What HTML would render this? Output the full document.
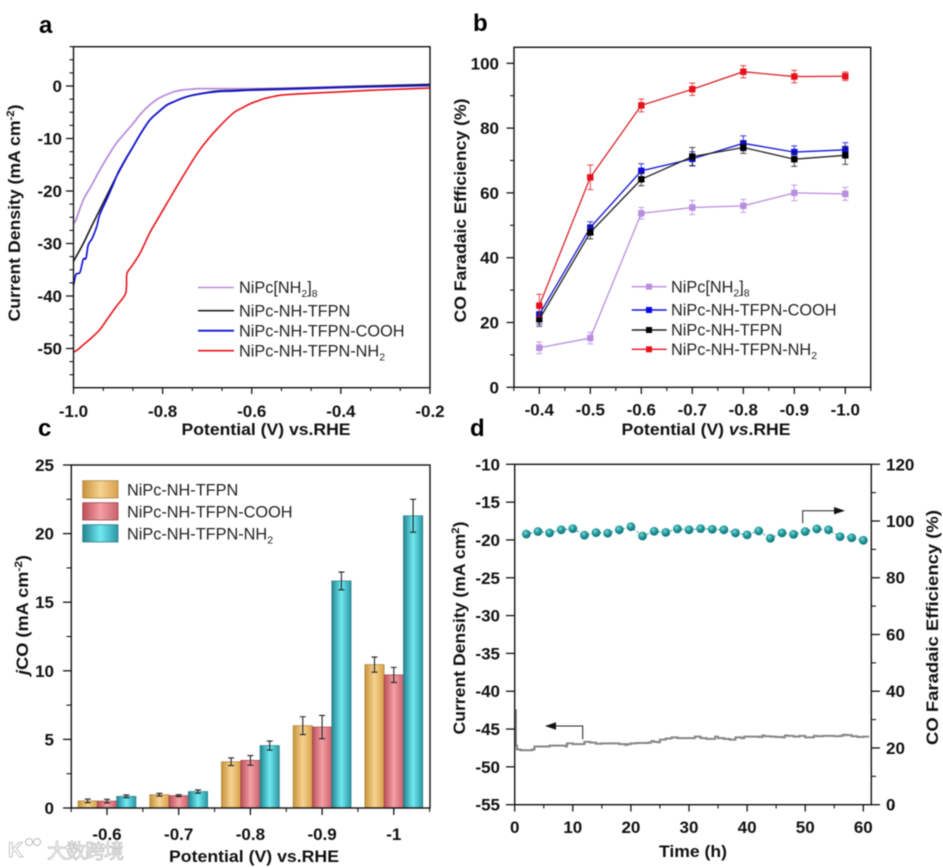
<!DOCTYPE html>
<html lang="en">
<head>
<meta charset="utf-8">
<title>NiPc catalyst performance figure</title>
<style>
html,body{margin:0;padding:0;background:#fff;}
body{width:943px;height:867px;overflow:hidden;}
svg{display:block;filter:blur(0.4px);}
text{font-family:"Liberation Sans","Noto Sans CJK SC",sans-serif;fill:#111;}
.tick{font-weight:bold;font-size:17px;}
.title{font-weight:bold;font-size:17px;}
.leg{font-size:16.3px;fill:#222;}
.panel{font-weight:bold;font-size:24px;fill:#000;}
</style>
</head>
<body>
<svg id="fig" width="943" height="867" viewBox="0 0 943 867" xmlns="http://www.w3.org/2000/svg">
<defs>
<linearGradient id="gOrange" x1="0" x2="1" y1="0" y2="0"><stop offset="0" stop-color="#c8923a"/><stop offset="0.5" stop-color="#f6d391"/><stop offset="1" stop-color="#d9a04a"/></linearGradient>
<linearGradient id="gRed" x1="0" x2="1" y1="0" y2="0"><stop offset="0" stop-color="#bb4f58"/><stop offset="0.5" stop-color="#f4a0a4"/><stop offset="1" stop-color="#c9606a"/></linearGradient>
<linearGradient id="gTeal" x1="0" x2="1" y1="0" y2="0"><stop offset="0" stop-color="#23838f"/><stop offset="0.5" stop-color="#70eaf2"/><stop offset="1" stop-color="#2a95a3"/></linearGradient>
<radialGradient id="gBall" cx="0.4" cy="0.35" r="0.7"><stop offset="0" stop-color="#8fd5d5"/><stop offset="0.45" stop-color="#1f9c9f"/><stop offset="1" stop-color="#0c6c72"/></radialGradient>
</defs>

<!-- Panel letters -->
<text class="panel" x="39" y="33">a</text>
<text class="panel" x="473" y="31">b</text>
<text class="panel" x="38" y="436">c</text>
<text class="panel" x="470" y="436">d</text>

<!-- Mark layers, drawn by script -->
<g id="layerA"></g>
<g id="layerB"></g>
<g id="layerC"></g>
<g id="layerD"></g>
<g id="axes"></g>

<!-- Plot frames -->
<rect x="73.5" y="46.7" width="356.5" height="341" fill="none" stroke="#111" stroke-width="1.4"/>
<rect x="514" y="47.3" width="356.7" height="340" fill="none" stroke="#111" stroke-width="1.4"/>
<rect x="71.3" y="465" width="358.7" height="343" fill="none" stroke="#111" stroke-width="1.4"/>
<rect x="514.7" y="464.3" width="356.6" height="340.4" fill="none" stroke="#111" stroke-width="1.4"/>

<!-- Axis titles -->
<text class="title" transform="translate(20,213) rotate(-90)" text-anchor="middle" textLength="217" lengthAdjust="spacingAndGlyphs">Current Density (mA cm<tspan font-size="11" dy="-6">-2</tspan><tspan dy="6">)</tspan></text>
<text class="title" x="266" y="435" text-anchor="middle" textLength="169" lengthAdjust="spacingAndGlyphs">Potential (V) vs.RHE</text>
<text class="title" transform="translate(466,210.5) rotate(-90)" text-anchor="middle" textLength="224" lengthAdjust="spacingAndGlyphs">CO Faradaic Efficiency (%)</text>
<text class="title" x="706" y="435" text-anchor="middle" textLength="169" lengthAdjust="spacingAndGlyphs">Potential (V) <tspan font-style="italic">vs</tspan>.RHE</text>
<text class="title" transform="translate(28,615) rotate(-90)" text-anchor="middle" textLength="120" lengthAdjust="spacingAndGlyphs"><tspan font-style="italic">j</tspan>CO (mA cm<tspan font-size="11" dy="-6">-2</tspan><tspan dy="6">)</tspan></text>
<text class="title" x="254" y="862" text-anchor="middle" textLength="170" lengthAdjust="spacingAndGlyphs">Potential (V) vs.RHE</text>
<text class="title" transform="translate(465,628) rotate(-90)" text-anchor="middle" textLength="213" lengthAdjust="spacingAndGlyphs">Current Density (mA cm<tspan font-size="11" dy="-6">2</tspan><tspan dy="6">)</tspan></text>
<text class="title" transform="translate(938,627.5) rotate(-90)" text-anchor="middle" textLength="235" lengthAdjust="spacingAndGlyphs">CO Faradaic Efficiency (%)</text>
<text class="title" x="693" y="857" text-anchor="middle" textLength="68" lengthAdjust="spacingAndGlyphs">Time (h)</text>

<!-- Legend a -->
<g>
<line x1="198" x2="234" y1="287.5" y2="287.5" stroke="#b98de0" stroke-width="1.6"/>
<text class="leg" x="239" y="293">NiPc[NH<tspan font-size="10.5" dy="4">2</tspan><tspan dy="-4">]</tspan><tspan font-size="10.5" dy="4">8</tspan></text>
<line x1="198" x2="234" y1="310.7" y2="310.7" stroke="#222" stroke-width="1.6"/>
<text class="leg" x="239" y="316.5">NiPc-NH-TFPN</text>
<line x1="198" x2="234" y1="330.7" y2="330.7" stroke="#1414d8" stroke-width="1.8"/>
<text class="leg" x="239" y="336.5">NiPc-NH-TFPN-COOH</text>
<line x1="198" x2="234" y1="350.7" y2="350.7" stroke="#e8141c" stroke-width="1.6"/>
<text class="leg" x="239" y="356.5">NiPc-NH-TFPN-NH<tspan font-size="10.5" dy="4">2</tspan></text>
</g>

<!-- Legend b -->
<g>
<line x1="631.7" x2="666.7" y1="286.7" y2="286.7" stroke="#b98de0" stroke-width="1.4"/>
<rect x="646" y="283.7" width="6" height="6" fill="#b98de0"/>
<text class="leg" x="671" y="292.5">NiPc[NH<tspan font-size="10.5" dy="4">2</tspan><tspan dy="-4">]</tspan><tspan font-size="10.5" dy="4">8</tspan></text>
<line x1="631.7" x2="666.7" y1="310" y2="310" stroke="#1414d8" stroke-width="1.4"/>
<rect x="646" y="307" width="6" height="6" fill="#0808e8"/>
<text class="leg" x="671" y="315.5">NiPc-NH-TFPN-COOH</text>
<line x1="631.7" x2="666.7" y1="330" y2="330" stroke="#222" stroke-width="1.4"/>
<rect x="646" y="327" width="6" height="6" fill="#000"/>
<text class="leg" x="671" y="335.5">NiPc-NH-TFPN</text>
<line x1="631.7" x2="666.7" y1="349.3" y2="349.3" stroke="#e8141c" stroke-width="1.4"/>
<rect x="646" y="346.3" width="6" height="6" fill="#e8101a"/>
<text class="leg" x="671" y="355">NiPc-NH-TFPN-NH<tspan font-size="10.5" dy="4">2</tspan></text>
</g>

<!-- Legend c -->
<g>
<rect x="82.7" y="480.7" width="35.3" height="17.3" fill="url(#gOrange)" stroke="#a9853f" stroke-width="0.8"/>
<text class="leg" x="127" y="495.5">NiPc-NH-TFPN</text>
<rect x="82.7" y="502.7" width="35.3" height="17.3" fill="url(#gRed)" stroke="#99444c" stroke-width="0.8"/>
<text class="leg" x="127" y="517.5">NiPc-NH-TFPN-COOH</text>
<rect x="82.7" y="524.7" width="35.3" height="17.3" fill="url(#gTeal)" stroke="#2d7f88" stroke-width="0.8"/>
<text class="leg" x="127" y="539.5">NiPc-NH-TFPN-NH<tspan font-size="10.5" dy="4">2</tspan></text>
</g>

<!-- Panel d direction arrows -->
<g>
<path d="M802.7 523.3V510.7H836" fill="none" stroke="#222" stroke-width="1"/>
<path d="M845 510.7L834 507V514.4Z" fill="#111"/>
</g>
<g>
<path d="M582.7 739.3V726H554" fill="none" stroke="#222" stroke-width="1"/>
<path d="M545 726L556 722.3V729.7Z" fill="#111"/>
</g>

<!-- Watermark -->
<g opacity="0.85">
<text x="8" y="857" font-size="21" font-weight="bold" style="fill:#fff;stroke:#bdbdbd;stroke-width:1">K</text>
<circle cx="29" cy="842" r="3.5" fill="#fff" stroke="#bdbdbd" stroke-width="1.2"/>
<circle cx="37" cy="842" r="3.5" fill="#fff" stroke="#bdbdbd" stroke-width="1.2"/>
<text x="47" y="858" font-size="20" textLength="77" style="fill:#fff;stroke:#b5b5b5;stroke-width:0.8">大数跨境</text>
</g>
</svg>

<script>
// ---- Panel a: linear sweep curves (potential V, current density mA cm-2)
const aPurpleV = [-1,-0.995,-0.978,-0.96,-0.941,-0.92,-0.904,-0.885,-0.866,-0.848,-0.829,-0.81,-0.79,-0.775,-0.755,-0.735,-0.717,-0.68,-0.6,-0.5,-0.4,-0.3,-0.2];
const aPurpleJ = [-26,-25.6,-21.7,-19,-16,-13,-10.9,-9,-7.1,-5.2,-3.6,-2.4,-1.6,-1.1,-0.76,-0.6,-0.5,-0.5,-0.5,-0.35,-0.1,0.1,0.3];
const aBlackV = [-1,-0.978,-0.96,-0.941,-0.92,-0.904,-0.885,-0.866,-0.848,-0.829,-0.81,-0.79,-0.772,-0.755,-0.735,-0.717,-0.68,-0.64,-0.6,-0.5,-0.4,-0.3,-0.2];
const aBlackJ = [-33.4,-30,-26.8,-23.6,-20,-17.3,-14.3,-11.5,-8.9,-6.5,-5,-3.6,-2.9,-2.3,-1.8,-1.5,-1,-0.85,-0.7,-0.45,-0.2,0.05,0.3];
const aBlueV = [-1,-0.995,-0.99,-0.985,-0.978,-0.972,-0.967,-0.958,-0.948,-0.941,-0.925,-0.911,-0.9,-0.885,-0.866,-0.848,-0.829,-0.81,-0.79,-0.772,-0.755,-0.735,-0.717,-0.68,-0.64,-0.6,-0.5,-0.4,-0.3,-0.2];
const aBlueJ = [-38,-36,-35.7,-35.4,-33,-32.8,-30.3,-29,-26.8,-24.5,-21.5,-18.8,-16.5,-14.2,-11.5,-8.9,-6.5,-5,-3.6,-2.9,-2.3,-1.8,-1.5,-1.1,-0.95,-0.8,-0.55,-0.3,-0.1,0.1];
const aRedV = [-1,-0.99,-0.978,-0.96,-0.941,-0.925,-0.904,-0.89,-0.883,-0.881,-0.88,-0.87,-0.851,-0.829,-0.81,-0.79,-0.755,-0.717,-0.68,-0.642,-0.622,-0.604,-0.585,-0.567,-0.53,-0.47,-0.4,-0.3,-0.2];
const aRedJ = [-50.7,-50.2,-49.3,-48,-46.4,-44.5,-42,-40.5,-39.5,-38,-35.7,-34.4,-31.9,-28,-25.2,-22.3,-17.3,-12.2,-8.4,-5.2,-4.2,-3.4,-2.8,-2.3,-1.7,-1.4,-1.1,-0.7,-0.4];
const aXTicks = [-1.0,-0.8,-0.6,-0.4,-0.2];
const aXTickLabels = ['-1.0','-0.8','-0.6','-0.4','-0.2'];
const aYTicks = [0,-10,-20,-30,-40,-50];

// ---- Panel b: CO Faradaic efficiency vs potential
const bCategories = ['-0.4','-0.5','-0.6','-0.7','-0.8','-0.9','-1.0'];
const bPurple = [12.2,15.2,53.7,55.5,56,60,59.7];
const bPurpleErr = [1.8,1.8,1.8,2.2,2,2.4,2];
const bBlue = [22.5,49.3,66.8,70.5,75.3,72.6,73.3];
const bBlueErr = [3,1.8,2.2,2.2,2.3,1.9,2.2];
const bBlack = [21,47.8,64.2,71.2,74,70.4,71.6];
const bBlackErr = [2.2,2,2,2.8,1.8,2.2,2.8];
const bRed = [25.2,64.8,87,92,97.4,95.9,96];
const bRedErr = [3.5,3.8,2,1.9,1.9,1.9,1.3];
const bYTicks = [0,20,40,60,80,100];

// ---- Panel c: partial current density bars
const cCategories = ['-0.6','-0.7','-0.8','-0.9','-1'];
const cTfpn = [0.52,0.97,3.37,6.0,10.45];
const cTfpnErr = [0.13,0.1,0.28,0.65,0.55];
const cCooh = [0.5,0.9,3.47,5.9,9.7];
const cCoohErr = [0.13,0.07,0.35,0.85,0.55];
const cNh2 = [0.85,1.2,4.55,16.55,21.3];
const cNh2Err = [0.1,0.12,0.33,0.65,1.2];
const cYTicks = [0,5,10,15,20,25];

// ---- Panel d: stability run
const dTime = [0,0.2,0.4,1,2,3,3.4,5,6,7,8,8.8,9,10,11,11.7,12,13,14,15,16,17,18,19,19.4,20,21,22,23,23.5,24,24.6,25,26,27,28,29,30,31,32,33,34,34.5,35,36,37,38,39,39.5,40,41,42,42.6,43,44,45,46,46.5,47,48,49,50,51,51.5,52,53,54,55,56,56.5,57,58,59,60,61];
const dCurrent = [-42.5,-47.2,-47.7,-47.8,-47.8,-47.7,-47.3,-47.3,-47.2,-47.2,-47.2,-47.3,-46.9,-47,-47,-47,-46.7,-46.8,-46.95,-46.9,-46.9,-46.9,-47,-47.1,-47,-46.9,-46.85,-46.85,-46.8,-46.6,-46.7,-46.75,-46.4,-46.25,-46.1,-46.2,-46.2,-46.2,-46,-46.2,-46.3,-46.3,-46,-46.2,-46.3,-46.4,-46.1,-46.2,-46,-46,-46,-46.05,-45.85,-45.95,-46,-46.05,-46.1,-45.85,-45.9,-46,-45.9,-46.1,-46.1,-45.9,-45.95,-45.9,-45.9,-45.95,-45.9,-45.75,-45.8,-45.95,-46.05,-46,-46];
const dEfTime = [2,4,6,8,10,12,14,16,18,20,22,24,26,28,30,32,34,36,38,40,42,44,46,48,50,52,54,56,58,60];
const dEf = [95.4,96.3,95.8,96.9,97.3,95,95.9,95.7,96.9,98,94.7,96.4,96,97.2,96.9,97.3,97.1,96.9,95.8,95.1,96.5,93.9,95.8,95.3,96.3,97.2,96.9,94.5,94.1,93.2];
const dXTicks = [0,10,20,30,40,50,60];
const dLeftTicks = [-10,-15,-20,-25,-30,-35,-40,-45,-50,-55];
const dRightTicks = [0,20,40,60,80,100,120];

// ---- Axis functions
const xA = v => 73.5 + (v + 1) * 445.6;
const yA = v => 86 - v * 5.25;
const xB = i => 539.3 + i * 51;
const yB = v => 387.3 - v * 3.24;
const xC = i => 107 + i * 71.7;
const yC = v => 808 - v * 13.72;
const xD = v => 514.7 + v * 5.81;
const yDL = v => 464.3 + (-10 - v) * 7.564;
const yDR = v => 804.7 - v * 2.837;

const NS = 'http://www.w3.org/2000/svg';
function mk(parent, tag, props) {
  const el = document.createElementNS(NS, tag);
  for (const k in props) el.setAttribute(k, props[k]);
  parent.appendChild(el);
  return el;
}
const axes = document.getElementById('axes');
const layerA = document.getElementById('layerA');
const layerB = document.getElementById('layerB');
const layerC = document.getElementById('layerC');
const layerD = document.getElementById('layerD');

function tickLine(x1, y1, x2, y2, w) {
  const el = mk(axes, 'line', {x1, y1, x2, y2, stroke: '#111', 'stroke-width': w});
  
  
}
function tickLabel(x, y, anchor, str) {
  const el = mk(axes, 'text', {x, y, 'text-anchor': anchor, class: 'tick'});
  el.textContent = str;
  
  
}
function pathFrom(xs, ys) {
  return xs.map((x, i) => (i ? 'L' : 'M') + x.toFixed(2) + ' ' + ys[i].toFixed(2)).join('');
}
function smoothFrom(xs, ys) {
  let d = 'M' + xs[0].toFixed(2) + ' ' + ys[0].toFixed(2);
  const n = xs.length;
  for (let i = 0; i < n - 1; i++) {
    const a = i ? i - 1 : i;
    const b = i + 2 < n ? i + 2 : i + 1;
    const c1x = xs[i] + (xs[i + 1] - xs[a]) / 6;
    const c1y = ys[i] + (ys[i + 1] - ys[a]) / 6;
    const c2x = xs[i + 1] - (xs[b] - xs[i]) / 6;
    const c2y = ys[i + 1] - (ys[b] - ys[i]) / 6;
    d += 'C' + c1x.toFixed(2) + ' ' + c1y.toFixed(2) + ' ' + c2x.toFixed(2) + ' ' + c2y.toFixed(2) + ' ' + xs[i + 1].toFixed(2) + ' ' + ys[i + 1].toFixed(2);
  }
  return d;
}

// ---- Panel a
const aSeries = [
  {name: 'curve-nipc-nh2', v: aPurpleV, j: aPurpleJ, c: '#b58ad9', w: 1.7},
  {name: 'curve-tfpn', v: aBlackV, j: aBlackJ, c: '#222', w: 1.7},
  {name: 'curve-cooh', v: aBlueV, j: aBlueJ, c: '#1414d8', w: 1.7},
  {name: 'curve-nh2', v: aRedV, j: aRedJ, c: '#e8141c', w: 1.6}
];
aSeries.forEach(s => {
  const p = mk(layerA, 'path', {d: smoothFrom(s.v.map(xA), s.j.map(yA)), fill: 'none', stroke: s.c, 'stroke-width': s.w, 'stroke-linejoin': 'round'});
  
  
});
aXTicks.forEach((v, i) => {
  tickLine(xA(v), 387.7, xA(v), 394, 1.3);
  tickLabel(xA(v), 417, 'middle', aXTickLabels[i]);
  if (i < aXTicks.length - 1) {
    tickLine(xA(v + 0.0667), 387.7, xA(v + 0.0667), 391, 1.1);
    tickLine(xA(v + 0.1333), 387.7, xA(v + 0.1333), 391, 1.1);
  }
});
aYTicks.forEach(v => {
  tickLine(73.5, yA(v), 66, yA(v), 1.3);
  tickLabel(62, yA(v) + 6, 'end', String(v));
});
for (let n = -22; n <= 3; n++) {
  if (n % 4 !== 0) tickLine(73.5, yA(n * 2.5), 69.5, yA(n * 2.5), 1.1);
}

// ---- Panel b
const bSeries = [
  {name: 'nipc-nh2', y: bPurple, e: bPurpleErr, c: '#b98de0', m: '#b98de0'},
  {name: 'cooh', y: bBlue, e: bBlueErr, c: '#1414d8', m: '#0808e8'},
  {name: 'tfpn', y: bBlack, e: bBlackErr, c: '#222', m: '#000'},
  {name: 'nh2', y: bRed, e: bRedErr, c: '#d8262c', m: '#e8101a'}
];
bSeries.forEach(s => {
  const line = mk(layerB, 'path', {d: pathFrom(s.y.map((_, i) => xB(i)), s.y.map(yB)), fill: 'none', stroke: s.c, 'stroke-width': 1.3});
  
  
  s.y.forEach((v, i) => {
    const x = xB(i), top = yB(v + s.e[i]), bot = yB(v - s.e[i]);
    const bar = mk(layerB, 'path', {d: 'M' + (x - 3) + ' ' + top + 'H' + (x + 3) + 'M' + x + ' ' + top + 'V' + bot + 'M' + (x - 3) + ' ' + bot + 'H' + (x + 3), fill: 'none', stroke: s.c, 'stroke-width': 1, opacity: 0.85});
    
    
    const pt = mk(layerB, 'rect', {x: x - 3.2, y: yB(v) - 3.2, width: 6.4, height: 6.4, fill: s.m});
    
    
  });
});
bCategories.forEach((c, i) => {
  tickLine(xB(i), 387.3, xB(i), 394, 1.3);
  tickLabel(xB(i), 415.5, 'middle', c);
});
[-0.5,0.5,1.5,2.5,3.5,4.5,5.5,6.5].forEach(i => tickLine(xB(i), 387.3, xB(i), 391, 1.1));
bYTicks.forEach(v => {
  tickLine(514, yB(v), 506.5, yB(v), 1.3);
  tickLabel(499, yB(v) + 6, 'end', String(v));
});
[10,30,50,70,90].forEach(v => tickLine(514, yB(v), 510, yB(v), 1.1));

// ---- Panel c
const cSeries = [
  {name: 'tfpn', y: cTfpn, e: cTfpnErr, f: 'url(#gOrange)', s: '#a9853f', off: -19.3},
  {name: 'cooh', y: cCooh, e: cCoohErr, f: 'url(#gRed)', s: '#99444c', off: 0},
  {name: 'nh2', y: cNh2, e: cNh2Err, f: 'url(#gTeal)', s: '#2d7f88', off: 19.3}
];
cSeries.forEach(s => {
  s.y.forEach((v, i) => {
    const cx = xC(i) + s.off;
    const bar = mk(layerC, 'rect', {x: cx - 9.65, y: yC(v), width: 19.3, height: 808 - yC(v), fill: s.f, stroke: s.s, 'stroke-width': 0.7});
    
    
  });
});
cSeries.forEach(s => {
  s.y.forEach((v, i) => {
    const cx = xC(i) + s.off, top = yC(v + s.e[i]), bot = yC(v - s.e[i]);
    const err = mk(layerC, 'path', {d: 'M' + (cx - 3) + ' ' + top + 'H' + (cx + 3) + 'M' + cx + ' ' + top + 'V' + bot + 'M' + (cx - 3) + ' ' + bot + 'H' + (cx + 3), fill: 'none', stroke: '#222', 'stroke-width': 1.1});
    
    
  });
});
cCategories.forEach((c, i) => {
  tickLine(xC(i), 808, xC(i), 815, 1.3);
  tickLabel(xC(i), 840, 'middle', c);
});
[-0.5,0.5,1.5,2.5,3.5,4.5].forEach(i => tickLine(xC(i), 808, xC(i), 812, 1.1));
cYTicks.forEach(v => {
  tickLine(71.3, yC(v), 63, yC(v), 1.3);
  tickLabel(54, yC(v) + 6, 'end', String(v));
});
[2.5,7.5,12.5,17.5,22.5].forEach(v => tickLine(71.3, yC(v), 66.5, yC(v), 1.1));

// ---- Panel d
const dStep = dTime.map((t, i) => (i ? 'L' + xD(t).toFixed(2) + ' ' + yDL(dCurrent[i - 1]).toFixed(2) + 'L' : 'M') + xD(t).toFixed(2) + ' ' + yDL(dCurrent[i]).toFixed(2)).join('');
const currentLine = mk(layerD, 'path', {d: dStep, fill: 'none', stroke: '#858585', 'stroke-width': 2});


const efLine = mk(layerD, 'path', {d: pathFrom(dEfTime.map(xD), dEf.map(yDR)), fill: 'none', stroke: '#1f8f93', 'stroke-width': 1, 'stroke-dasharray': '2 2'});


dEf.forEach((v, i) => {
  const ball = mk(layerD, 'circle', {cx: xD(dEfTime[i]), cy: yDR(v), r: 4.4, fill: 'url(#gBall)'});
  
  
});
dXTicks.forEach(v => {
  tickLine(xD(v), 804.7, xD(v), 811.5, 1.3);
  tickLabel(xD(v), 833, 'middle', String(v));
  tickLine(xD(v + 5), 804.7, xD(v + 5), 808.5, 1.1);
});
dLeftTicks.forEach(v => {
  tickLine(514.7, yDL(v), 506, yDL(v), 1.3);
  tickLabel(500, yDL(v) + 6, 'end', String(v));
});
dRightTicks.forEach(v => {
  tickLine(871.3, yDR(v), 880, yDR(v), 1.3);
  tickLabel(886, yDR(v) + 6, 'start', String(v));
});
[10,30,50,70,90,110].forEach(v => tickLine(871.3, yDR(v), 876, yDR(v), 1.1));
</script>
</body>
</html>
